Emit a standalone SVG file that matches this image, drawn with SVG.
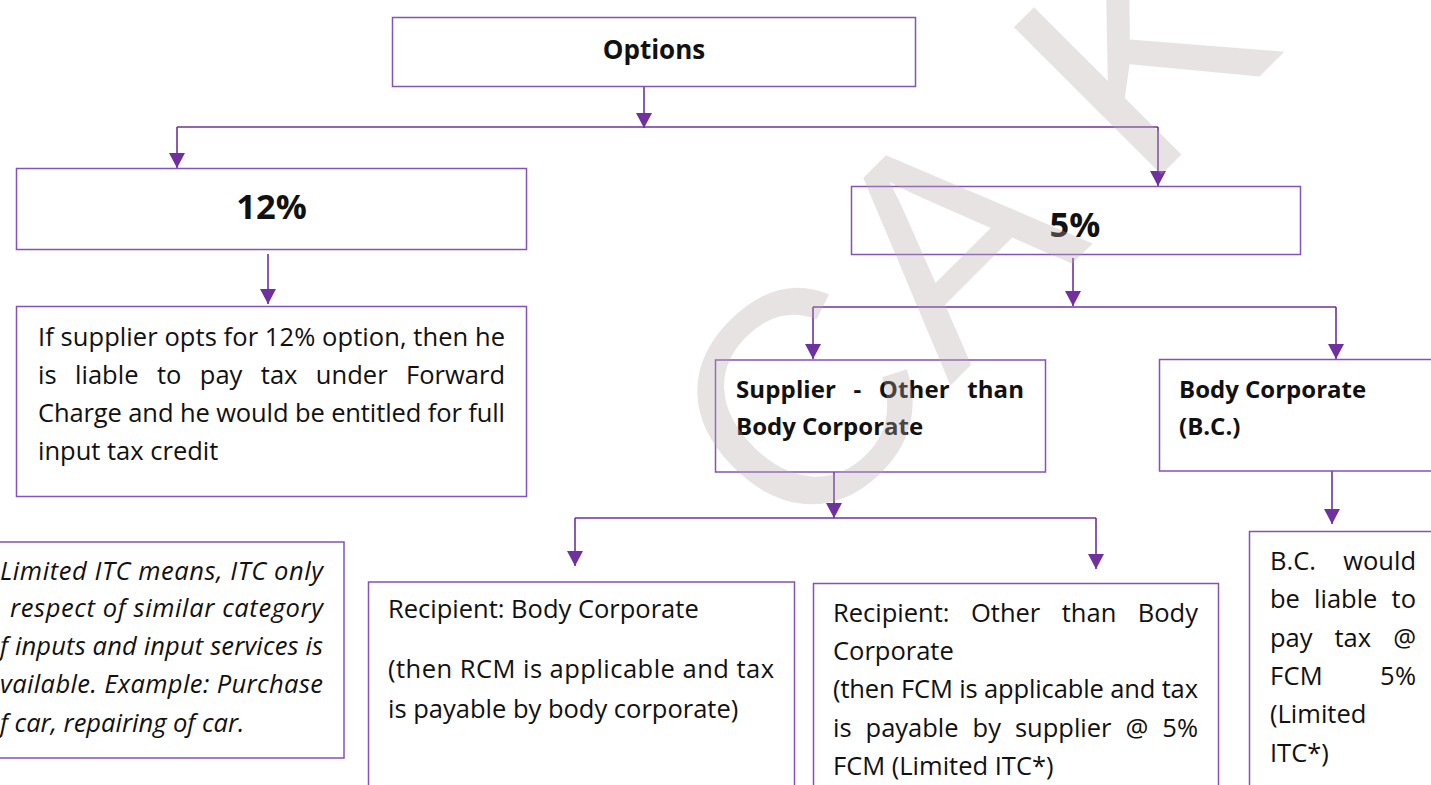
<svg xmlns="http://www.w3.org/2000/svg" width="1431" height="785" viewBox="0 0 1431 785">
<style>
.box{fill:#ffffff;stroke:#8552b8;stroke-width:1.5}
.ln{fill:none;stroke:#7030a0;stroke-width:1.6}
.t{font-family:"Open Sans","Liberation Sans",sans-serif;font-size:25.5px;fill:#111}
.b{font-family:"Open Sans","Liberation Sans",sans-serif;font-weight:bold;fill:#111}
.i{font-family:"Open Sans","Liberation Sans",sans-serif;font-style:italic;font-size:25.5px;fill:#111}
.wm{font-family:"Liberation Sans",Arial,sans-serif;font-size:303px;fill:rgb(182,170,170);fill-opacity:0.33}
</style>
<defs>
<marker id="ah" viewBox="0 0 15 16" refX="15" refY="8" markerWidth="15" markerHeight="16" markerUnits="userSpaceOnUse" orient="auto">
<path d="M0,0 L15,8 L0,16 z" fill="#7030a0"/>
</marker>
</defs>
<rect width="1431" height="785" fill="#ffffff"/>

<g id="connectors">
<path class="ln" d="M644,86 V128" marker-end="url(#ah)"/>
<path class="ln" d="M177,127 H1158"/>
<path class="ln" d="M177,127 V168" marker-end="url(#ah)"/>
<path class="ln" d="M1158,127 V186" marker-end="url(#ah)"/>
<path class="ln" d="M268,254 V304" marker-end="url(#ah)"/>
<path class="ln" d="M1073,258 V306" marker-end="url(#ah)"/>
<path class="ln" d="M813,307 H1336"/>
<path class="ln" d="M813,307 V359" marker-end="url(#ah)"/>
<path class="ln" d="M1336,307 V359" marker-end="url(#ah)"/>
<path class="ln" d="M834,472 V518" marker-end="url(#ah)"/>
<path class="ln" d="M575,518 H1096"/>
<path class="ln" d="M575,518 V566" marker-end="url(#ah)"/>
<path class="ln" d="M1096,518 V569" marker-end="url(#ah)"/>
<path class="ln" d="M1332,471 V524" marker-end="url(#ah)"/>
</g>

<g id="options">
<rect class="box" x="392.5" y="17.5" width="523" height="69"/>
<text class="b" x="654" y="59" font-size="26" text-anchor="middle">Options</text>
</g>

<g id="opt12">
<rect class="box" x="16.5" y="168.5" width="510" height="81"/>
<text class="b" x="271.5" y="219" font-size="34.5" text-anchor="middle">12%</text>
</g>

<g id="desc12">
<rect class="box" x="16.5" y="306.5" width="510" height="190"/>
<text class="t" x="38" y="346" textLength="467" lengthAdjust="spacing">If supplier opts for 12% option, then he</text>
<text class="t" x="38" y="384" word-spacing="11.7" textLength="467" lengthAdjust="spacing">is liable to pay tax under Forward</text>
<text class="t" x="38" y="422" textLength="467" lengthAdjust="spacing">Charge and he would be entitled for full</text>
<text class="t" x="38" y="460">input tax credit</text>
</g>

<g id="opt5">
<rect class="box" x="851.5" y="186.5" width="449" height="68"/>
<text class="b" x="1075" y="237" font-size="34.5" text-anchor="middle">5%</text>
</g>

<g id="supplier">
<rect class="box" x="715.5" y="360" width="330" height="112"/>
<text class="b" x="736" y="398" font-size="24" word-spacing="11" textLength="288" lengthAdjust="spacing">Supplier - Other than</text>
<text class="b" x="736" y="435" font-size="24">Body Corporate</text>
</g>

<g id="bodycorp">
<rect class="box" x="1159.5" y="359.5" width="300" height="111.5"/>
<text class="b" x="1179" y="398" font-size="24">Body Corporate</text>
<text class="b" x="1179" y="435" font-size="24">(B.C.)</text>
</g>

<g id="itcnote">
<rect class="box" x="-5" y="542" width="349" height="216"/>
<text class="i" x="0" y="580" textLength="323" lengthAdjust="spacing">Limited ITC means, ITC only</text>
<text class="i" x="10" y="617" textLength="313" lengthAdjust="spacing">respect of similar category</text>
<text class="i" x="0" y="655" textLength="323" lengthAdjust="spacing">f inputs and input services is</text>
<text class="i" x="0" y="693" textLength="323" lengthAdjust="spacing">vailable. Example: Purchase</text>
<text class="i" x="0" y="732">f car, repairing of car.</text>
</g>

<g id="recipbc">
<rect class="box" x="368.5" y="582" width="426" height="250"/>
<text class="t" x="388" y="618">Recipient: Body Corporate</text>
<text class="t" x="388" y="678" textLength="386" lengthAdjust="spacing">(then RCM is applicable and tax</text>
<text class="t" x="388" y="718">is payable by body corporate)</text>
</g>

<g id="recipother">
<rect class="box" x="813.5" y="583.5" width="405" height="250"/>
<text class="t" x="833" y="622" word-spacing="14.9" textLength="365" lengthAdjust="spacing">Recipient: Other than Body</text>
<text class="t" x="833" y="660">Corporate</text>
<text class="t" x="833" y="698" textLength="365" lengthAdjust="spacing">(then FCM is applicable and tax</text>
<text class="t" x="833" y="737" word-spacing="7.4" textLength="365" lengthAdjust="spacing">is payable by supplier @ 5%</text>
<text class="t" x="833" y="775">FCM (Limited ITC*)</text>
</g>

<g id="bcdesc">
<rect class="box" x="1249.5" y="531.5" width="250" height="300"/>
<text class="t" x="1270" y="570" word-spacing="20.6" textLength="146" lengthAdjust="spacing">B.C. would</text>
<text class="t" x="1270" y="608" word-spacing="7.5" textLength="146" lengthAdjust="spacing">be liable to</text>
<text class="t" x="1270" y="647" word-spacing="15.6" textLength="146" lengthAdjust="spacing">pay tax @</text>
<text class="t" x="1270" y="685" word-spacing="50.5" textLength="146" lengthAdjust="spacing">FCM 5%</text>
<text class="t" x="1270" y="723">(Limited</text>
<text class="t" x="1270" y="762">ITC*)</text>
</g>

<g id="watermark">
<text class="wm" transform="translate(797,552.6) rotate(-45)" font-size="320">C</text>
<text class="wm" transform="translate(791,545) rotate(-45)" x="225 427 499">A K</text>
</g>
</svg>
